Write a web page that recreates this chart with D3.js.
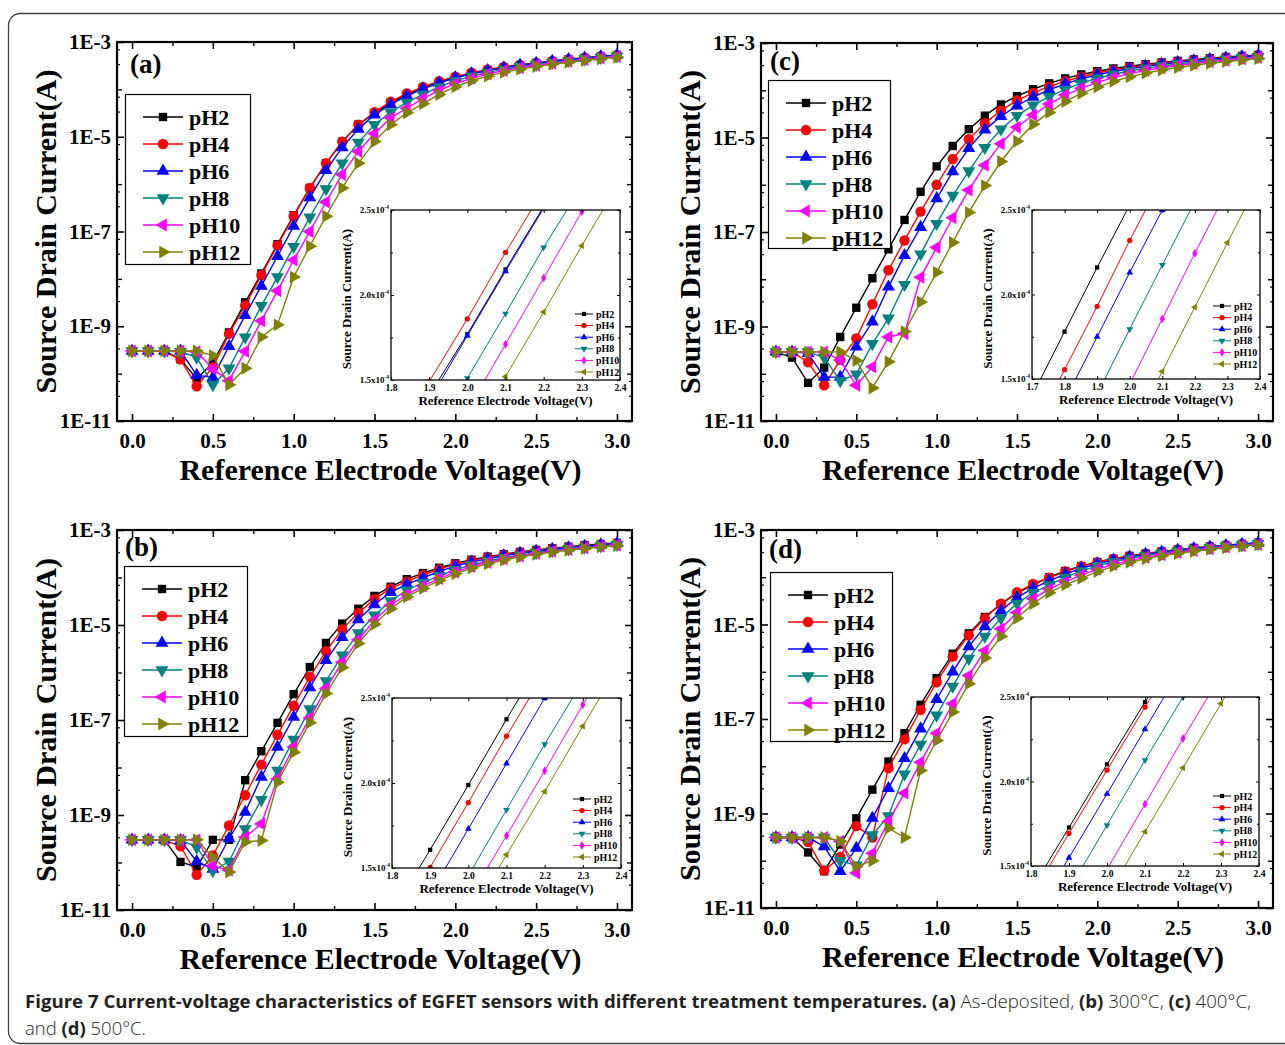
<!DOCTYPE html>
<html lang="en">
<head>
<meta charset="utf-8" />
<title>Figure 7</title>
<style>
  body { margin: 0; background: #fff; }
  svg text { font-family: "Liberation Serif", "Times New Roman", serif; font-weight: bold; }
  svg text.cap { font-family: "Open Sans", "Noto Sans", sans-serif; white-space: pre; }
</style>
</head>
<body>
<svg id="fig" width="1285" height="1045"></svg>
<script src="https://d3js.org/d3.v7.min.js"></script>
<script>
// gate voltage (V), same for every curve
const voltage = [0.0, 0.1, 0.2, 0.3, 0.4, 0.5, 0.6, 0.7, 0.8, 0.9, 1.0, 1.1, 1.2, 1.3, 1.4, 1.5,
  1.6, 1.7, 1.8, 1.9, 2.0, 2.1, 2.2, 2.3, 2.4, 2.5, 2.6, 2.7, 2.8, 2.9, 3.0];

const seriesNames = ["pH2", "pH4", "pH6", "pH8", "pH10", "pH12"];
const seriesColors = ["#000000", "#ff0000", "#0000ff", "#008080", "#ff00ff", "#808000"];

const xTicks = [0, 0.5, 1.0, 1.5, 2.0, 2.5, 3.0];
const xTickLabels = ["0.0", "0.5", "1.0", "1.5", "2.0", "2.5", "3.0"];
const xMinorTicks = [0.25, 0.75, 1.25, 1.75, 2.25, 2.75];
const yTicks = [1e-3, 1e-5, 1e-7, 1e-9, 1e-11];
const yTickLabels = ["1E-3", "1E-5", "1E-7", "1E-9", "1E-11"];
const yDecadeTicks = [1e-4, 1e-6, 1e-8, 1e-10];
const yMinorTicks = [7e-4, 3.4e-4, 7e-5, 3.4e-5, 7e-6, 3.4e-6, 7e-7, 3.4e-7, 7e-8, 3.4e-8,
  7e-9, 3.4e-9, 7e-10, 3.4e-10, 7e-11, 3.4e-11];

const insetTicks18 = [1.8, 1.9, 2.0, 2.1, 2.2, 2.3, 2.4];
const insetTicks17 = [1.7, 1.8, 1.9, 2.0, 2.1, 2.2, 2.3, 2.4];
const insetYTicks = [1.5e-4, 2.0e-4, 2.5e-4];
const insetYLabels = ["1.5x10", "2.0x10", "2.5x10"];
const insetYMinor = [1.75e-4, 2.25e-4];

// (a) as-deposited
const pH2_a = [3.0e-10, 3.0e-10, 3.0e-10, 2.0e-10, 7.8e-11, 1.7e-10, 7.4e-10, 3.2e-9, 1.3e-8, 5.4e-8, 2.2e-7, 8.3e-7, 2.75e-6, 7.9e-6, 1.8e-5, 3.1e-5, 5.2e-5, 7.8e-5, 1.07e-4, 1.41e-4, 1.77e-4, 2.15e-4, 2.52e-4, 2.88e-4, 3.23e-4, 3.58e-4, 3.93e-4, 4.27e-4, 4.61e-4, 4.95e-4, 5.28e-4];
const pH4_a = [3.0e-10, 3.0e-10, 3.0e-10, 2.0e-10, 5.4e-11, 1.35e-10, 6.9e-10, 2.75e-9, 1.2e-8, 5.1e-8, 2.1e-7, 8.3e-7, 2.75e-6, 7.9e-6, 1.8e-5, 3.3e-5, 5.5e-5, 8.2e-5, 1.13e-4, 1.49e-4, 1.86e-4, 2.25e-4, 2.62e-4, 2.98e-4, 3.33e-4, 3.67e-4, 4.0e-4, 4.33e-4, 4.66e-4, 4.98e-4, 5.3e-4];
const pH6_a = [3.0e-10, 3.0e-10, 3.0e-10, 3.0e-10, 9.3e-11, 8.3e-11, 3.8e-10, 1.7e-9, 7.1e-9, 3.0e-8, 1.3e-7, 5.2e-7, 1.95e-6, 5.9e-6, 1.45e-5, 2.9e-5, 4.8e-5, 7.3e-5, 1.03e-4, 1.38e-4, 1.76e-4, 2.14e-4, 2.51e-4, 2.87e-4, 3.22e-4, 3.57e-4, 3.92e-4, 4.26e-4, 4.6e-4, 4.94e-4, 5.28e-4];
const pH8_a = [3.0e-10, 3.0e-10, 3.0e-10, 2.9e-10, 2.2e-10, 5.8e-11, 1.3e-10, 5.9e-10, 2.7e-9, 1.1e-8, 4.8e-8, 2.0e-7, 7.9e-7, 2.75e-6, 7.6e-6, 1.8e-5, 3.3e-5, 5.3e-5, 7.8e-5, 1.13e-4, 1.51e-4, 1.89e-4, 2.28e-4, 2.64e-4, 3.0e-4, 3.35e-4, 3.7e-4, 4.04e-4, 4.38e-4, 4.71e-4, 5.04e-4];
const pH10_a = [3.0e-10, 3.0e-10, 3.0e-10, 3.0e-10, 2.9e-10, 1.26e-10, 7.1e-11, 2.95e-10, 1.3e-9, 5.6e-9, 2.5e-8, 1.0e-7, 4.2e-7, 1.6e-6, 4.9e-6, 1.17e-5, 2.5e-5, 4.0e-5, 6.4e-5, 9.5e-5, 1.32e-4, 1.71e-4, 2.1e-4, 2.49e-4, 2.86e-4, 3.22e-4, 3.57e-4, 3.91e-4, 4.25e-4, 4.58e-4, 4.9e-4];
const pH12_a = [3.0e-10, 3.0e-10, 3.0e-10, 3.0e-10, 3.0e-10, 2.4e-10, 5.8e-11, 1.3e-10, 5.9e-10, 1.07e-9, 1.1e-8, 4.9e-8, 2.1e-7, 8.3e-7, 2.75e-6, 7.9e-6, 1.8e-5, 3.2e-5, 5.0e-5, 7.8e-5, 1.14e-4, 1.52e-4, 1.9e-4, 2.29e-4, 2.67e-4, 3.03e-4, 3.39e-4, 3.74e-4, 4.08e-4, 4.42e-4, 4.75e-4];

// (b) 300 C
const pH2_b = [3.0e-10, 3.0e-10, 3.0e-10, 1.03e-10, 8.0e-11, 3.0e-10, 3.0e-10, 5.4e-9, 2.2e-8, 8.7e-8, 3.5e-7, 1.3e-6, 4.2e-6, 1.07e-5, 2.2e-5, 4.1e-5, 6.4e-5, 9.2e-5, 1.24e-4, 1.607e-4, 1.988e-4, 2.375e-4, 2.75e-4, 3.11e-4, 3.46e-4, 3.8e-4, 4.13e-4, 4.45e-4, 4.76e-4, 5.06e-4, 5.35e-4];
const pH4_b = [3.0e-10, 3.0e-10, 3.0e-10, 2.2e-10, 5.5e-11, 1.4e-10, 6.0e-10, 2.6e-9, 1.15e-8, 4.9e-8, 2.0e-7, 8.1e-7, 2.8e-6, 8.1e-6, 1.8e-5, 3.5e-5, 5.9e-5, 8.3e-5, 1.13e-4, 1.504e-4, 1.885e-4, 2.275e-4, 2.65e-4, 3.01e-4, 3.36e-4, 3.7e-4, 4.03e-4, 4.35e-4, 4.66e-4, 4.96e-4, 5.25e-4];
const pH6_b = [3.0e-10, 3.0e-10, 3.0e-10, 2.9e-10, 1.05e-10, 7.3e-11, 3.2e-10, 1.15e-9, 6.3e-9, 2.7e-8, 1.15e-7, 4.8e-7, 1.8e-6, 5.5e-6, 1.3e-5, 2.7e-5, 4.9e-5, 7.2e-5, 9.8e-5, 1.345e-4, 1.73e-4, 2.115e-4, 2.5e-4, 2.87e-4, 3.23e-4, 3.58e-4, 3.92e-4, 4.25e-4, 4.57e-4, 4.88e-4, 5.18e-4];
const pH8_b = [3.0e-10, 3.0e-10, 3.0e-10, 3.0e-10, 2.1e-10, 6.7e-11, 1.05e-10, 5.1e-10, 2.1e-9, 8.7e-9, 3.9e-8, 1.7e-7, 6.6e-7, 2.3e-6, 6.8e-6, 1.6e-5, 3.2e-5, 5.4e-5, 7.8e-5, 1.08e-4, 1.455e-4, 1.842e-4, 2.228e-4, 2.6e-4, 2.96e-4, 3.31e-4, 3.65e-4, 3.98e-4, 4.3e-4, 4.61e-4, 4.91e-4];
const pH10_b = [3.0e-10, 3.0e-10, 3.0e-10, 3.0e-10, 3.0e-10, 8.5e-11, 6.9e-11, 3.4e-10, 6.5e-10, 5.8e-9, 2.7e-8, 1.1e-7, 4.6e-7, 1.65e-6, 4.9e-6, 1.26e-5, 2.6e-5, 4.4e-5, 6.6e-5, 9.5e-5, 1.31e-4, 1.69e-4, 2.072e-4, 2.46e-4, 2.83e-4, 3.19e-4, 3.54e-4, 3.88e-4, 4.21e-4, 4.53e-4, 4.84e-4];
const pH12_b = [3.0e-10, 3.0e-10, 3.0e-10, 3.0e-10, 3.0e-10, 1.3e-10, 6.3e-11, 2.7e-10, 2.9e-10, 4.9e-9, 2.1e-8, 8.8e-8, 3.6e-7, 1.27e-6, 4.1e-6, 1.04e-5, 2.2e-5, 3.9e-5, 5.9e-5, 8.6e-5, 1.2e-4, 1.578e-4, 1.95e-4, 2.334e-4, 2.71e-4, 3.07e-4, 3.42e-4, 3.76e-4, 4.09e-4, 4.41e-4, 4.72e-4];

// (c) 400 C
const pH2_c = [2.9e-10, 2.2e-10, 6.4e-11, 1.35e-10, 6.0e-10, 2.5e-9, 1.05e-8, 4.3e-8, 1.8e-7, 7.1e-7, 2.45e-6, 6.6e-6, 1.5e-5, 2.9e-5, 5.0e-5, 7.5e-5, 1.05e-4, 1.40e-4, 1.78e-4, 2.16e-4, 2.53e-4, 2.89e-4, 3.23e-4, 3.56e-4, 3.88e-4, 4.19e-4, 4.49e-4, 4.78e-4, 5.06e-4, 5.33e-4, 5.6e-4];
const pH4_c = [2.9e-10, 2.9e-10, 1.75e-10, 5.7e-11, 1.95e-10, 5.6e-10, 2.95e-9, 1.55e-8, 6.6e-8, 2.7e-7, 1.0e-6, 3.5e-6, 9.2e-6, 2.0e-5, 3.7e-5, 6.1e-5, 8.8e-5, 1.19e-4, 1.555e-4, 1.93e-4, 2.32e-4, 2.69e-4, 3.05e-4, 3.39e-4, 3.72e-4, 4.04e-4, 4.35e-4, 4.65e-4, 4.94e-4, 5.22e-4, 5.5e-4];
const pH6_c = [2.9e-10, 2.9e-10, 2.7e-10, 8.5e-11, 8.5e-11, 3.7e-10, 1.26e-9, 6.9e-9, 3.2e-8, 1.26e-7, 5.1e-7, 1.9e-6, 5.9e-6, 1.45e-5, 2.8e-5, 4.7e-5, 7.2e-5, 1.02e-4, 1.37e-4, 1.75e-4, 2.13e-4, 2.5e-4, 2.86e-4, 3.21e-4, 3.55e-4, 3.88e-4, 4.2e-4, 4.51e-4, 4.81e-4, 5.1e-4, 5.38e-4];
const pH8_c = [2.9e-10, 2.9e-10, 2.9e-10, 2.2e-10, 7.1e-11, 9.8e-11, 4.3e-10, 1.5e-9, 7.7e-9, 3.4e-8, 1.5e-7, 5.9e-7, 1.95e-6, 6.1e-6, 1.5e-5, 2.9e-5, 4.8e-5, 7.3e-5, 1.04e-4, 1.41e-4, 1.795e-4, 2.175e-4, 2.55e-4, 2.91e-4, 3.26e-4, 3.6e-4, 3.93e-4, 4.25e-4, 4.56e-4, 4.86e-4, 5.15e-4];
const pH10_c = [2.9e-10, 2.9e-10, 2.9e-10, 2.9e-10, 1.95e-10, 5.7e-11, 1.4e-10, 6.0e-10, 7.1e-10, 1.1e-8, 4.7e-8, 2.0e-7, 7.7e-7, 2.6e-6, 7.4e-6, 1.65e-5, 3.0e-5, 5.1e-5, 7.9e-5, 1.1e-4, 1.47e-4, 1.856e-4, 2.244e-4, 2.62e-4, 2.98e-4, 3.33e-4, 3.67e-4, 4.0e-4, 4.32e-4, 4.63e-4, 4.93e-4];
const pH12_c = [2.9e-10, 2.9e-10, 2.9e-10, 2.9e-10, 2.9e-10, 1.9e-10, 5.0e-11, 1.8e-10, 7.8e-10, 3.3e-9, 1.4e-8, 6.0e-8, 2.6e-7, 9.6e-7, 3.1e-6, 8.3e-6, 1.9e-5, 3.4e-5, 5.8e-5, 8.6e-5, 1.165e-4, 1.545e-4, 1.925e-4, 2.307e-4, 2.68e-4, 3.04e-4, 3.39e-4, 3.73e-4, 4.06e-4, 4.38e-4, 4.69e-4];

// (d) 500 C
const pH2_d = [3.1e-10, 3.1e-10, 1.5e-10, 6.0e-11, 2.2e-10, 7.9e-10, 3.2e-9, 1.26e-8, 5.0e-8, 2.0e-7, 7.3e-7, 2.4e-6, 6.5e-6, 1.44e-5, 2.7e-5, 4.6e-5, 6.9e-5, 1.0e-4, 1.355e-4, 1.728e-4, 2.102e-4, 2.47e-4, 2.83e-4, 3.18e-4, 3.52e-4, 3.85e-4, 4.17e-4, 4.48e-4, 4.78e-4, 5.07e-4, 5.35e-4];
const pH4_d = [3.1e-10, 3.1e-10, 2.5e-10, 6.2e-11, 1.2e-10, 5.4e-10, 3.1e-10, 9.1e-9, 3.7e-8, 1.55e-7, 6.0e-7, 2.1e-6, 5.9e-6, 1.35e-5, 2.75e-5, 4.8e-5, 7.2e-5, 9.8e-5, 1.32e-4, 1.693e-4, 2.067e-4, 2.44e-4, 2.8e-4, 3.15e-4, 3.49e-4, 3.82e-4, 4.14e-4, 4.45e-4, 4.75e-4, 5.04e-4, 5.32e-4];
const pH6_d = [3.1e-10, 3.1e-10, 3.1e-10, 2.0e-10, 6.0e-11, 1.85e-10, 8.0e-10, 3.4e-9, 1.47e-8, 6.2e-8, 2.6e-7, 1.0e-6, 3.4e-6, 9.1e-6, 1.95e-5, 3.7e-5, 5.9e-5, 8.4e-5, 1.17e-4, 1.549e-4, 1.927e-4, 2.309e-4, 2.69e-4, 3.06e-4, 3.41e-4, 3.75e-4, 4.08e-4, 4.4e-4, 4.71e-4, 5.01e-4, 5.3e-4];
const pH8_d = [3.1e-10, 3.1e-10, 3.1e-10, 3.1e-10, 1.0e-10, 8.0e-11, 3.5e-10, 8.9e-10, 6.8e-9, 2.9e-8, 1.2e-7, 4.9e-7, 1.9e-6, 5.6e-6, 1.35e-5, 2.8e-5, 4.7e-5, 6.9e-5, 9.9e-5, 1.36e-4, 1.742e-4, 2.126e-4, 2.5e-4, 2.87e-4, 3.22e-4, 3.56e-4, 3.89e-4, 4.21e-4, 4.52e-4, 4.82e-4, 5.1e-4];
const pH10_d = [3.1e-10, 3.1e-10, 3.1e-10, 3.1e-10, 2.6e-10, 5.5e-11, 1.45e-10, 6.8e-10, 2.7e-9, 1.22e-8, 5.0e-8, 2.1e-7, 8.3e-7, 2.8e-6, 8.1e-6, 1.8e-5, 3.5e-5, 5.6e-5, 8.0e-5, 1.1e-4, 1.48e-4, 1.866e-4, 2.254e-4, 2.63e-4, 2.99e-4, 3.34e-4, 3.68e-4, 4.01e-4, 4.33e-4, 4.64e-4, 4.94e-4];
const pH12_d = [3.1e-10, 3.1e-10, 3.1e-10, 3.1e-10, 2.6e-10, 7.6e-11, 1.0e-10, 4.9e-10, 3.1e-10, 8.1e-9, 3.5e-8, 1.4e-7, 5.6e-7, 1.95e-6, 5.6e-6, 1.35e-5, 2.75e-5, 4.7e-5, 6.9e-5, 9.5e-5, 1.32e-4, 1.703e-4, 2.081e-4, 2.461e-4, 2.83e-4, 3.19e-4, 3.54e-4, 3.88e-4, 4.21e-4, 4.53e-4, 4.84e-4];

// layout of the four panels
const panels = [
  { label: "(a)", curves: [pH2_a, pH4_a, pH6_a, pH8_a, pH10_a, pH12_a],
    frame: [117, 42, 515, 379], labelPos: [130, 73], legend: [125, 94, 125, 170],
    inset: [391, 210, 229, 170], insetTicks: insetTicks18, insetLegend: [575, 314] },
  { label: "(c)", curves: [pH2_c, pH4_c, pH6_c, pH8_c, pH10_c, pH12_c],
    frame: [761, 43, 512, 378], labelPos: [770, 70], legend: [768, 80, 122, 168],
    inset: [1032, 210, 228, 169], insetTicks: insetTicks17, insetLegend: [1213, 306] },
  { label: "(b)", curves: [pH2_b, pH4_b, pH6_b, pH8_b, pH10_b, pH12_b],
    frame: [117, 530, 515, 380], labelPos: [125, 556], legend: [124, 566, 123, 170],
    inset: [392, 698, 229, 170], insetTicks: insetTicks18, insetLegend: [573, 799] },
  { label: "(d)", curves: [pH2_d, pH4_d, pH6_d, pH8_d, pH10_d, pH12_d],
    frame: [761, 530, 512, 378], labelPos: [769, 558], legend: [770, 572, 122, 169],
    inset: [1031, 697, 228, 169], insetTicks: insetTicks18, insetLegend: [1213, 796] }
];

const mainSymbols = [
  { type: d3.symbolSquare, size: 70, rot: 0 },
  { type: d3.symbolCircle, size: 85, rot: 0 },
  { type: d3.symbolTriangle, size: 72, rot: 0 },
  { type: d3.symbolTriangle, size: 72, rot: 180 },
  { type: d3.symbolTriangle, size: 72, rot: -90 },
  { type: d3.symbolTriangle, size: 72, rot: 90 }
];
const insetSymbols = [
  { type: d3.symbolSquare, size: 18, rot: 0 },
  { type: d3.symbolCircle, size: 22, rot: 0 },
  { type: d3.symbolTriangle, size: 20, rot: 0 },
  { type: d3.symbolTriangle, size: 20, rot: 180 },
  { type: d3.symbolDiamond, size: 22, rot: 0 },
  { type: d3.symbolTriangle, size: 20, rot: -90 }
];

const svg = d3.select("#fig");

// rounded border round the whole figure
svg.append("rect")
  .attr("x", 8.5).attr("y", 13.5)
  .attr("width", 1290).attr("height", 1030)
  .attr("rx", 12)
  .attr("fill", "none").attr("stroke", "#444").attr("stroke-width", 1.3);

function styleAxis(sel, width) {
  sel.select(".domain").remove();
  sel.selectAll(".tick line").attr("stroke", "#000").attr("stroke-width", width);
}

function drawPanel(p, idx) {
  const [fx, fy, fw, fh] = p.frame;
  const g = svg.append("g").attr("class", "panel");

  const x = d3.scaleLinear().domain([-0.093, 3.093]).range([fx, fx + fw]);
  const y = d3.scaleLog().domain([1e-11, 1e-3]).range([fy + fh, fy]);

  // bottom axis
  const xAxis = g.append("g")
    .attr("transform", "translate(0," + (fy + fh) + ")")
    .call(d3.axisBottom(x).tickValues(xTicks)
      .tickFormat((d, i) => xTickLabels[i])
      .tickSizeInner(-7).tickSizeOuter(0).tickPadding(12));
  styleAxis(xAxis, 1.6);
  xAxis.selectAll("text").attr("fill", "#000")
    .style("font", "bold 21px 'Liberation Serif', serif");

  g.append("g").attr("transform", "translate(0," + (fy + fh) + ")")
    .call(d3.axisBottom(x).tickValues(xMinorTicks).tickFormat("").tickSizeInner(-4).tickSizeOuter(0))
    .call((s) => styleAxis(s, 1.4));

  // top axis, ticks only
  g.append("g").attr("transform", "translate(0," + fy + ")")
    .call(d3.axisTop(x).tickValues(xTicks).tickFormat("").tickSizeInner(-7).tickSizeOuter(0))
    .call((s) => styleAxis(s, 1.6));
  g.append("g").attr("transform", "translate(0," + fy + ")")
    .call(d3.axisTop(x).tickValues(xMinorTicks).tickFormat("").tickSizeInner(-4).tickSizeOuter(0))
    .call((s) => styleAxis(s, 1.4));

  // left axis
  const yAxis = g.append("g")
    .attr("transform", "translate(" + fx + ",0)")
    .call(d3.axisLeft(y).tickValues(yTicks)
      .tickFormat((d, i) => yTickLabels[i])
      .tickSizeInner(-7).tickSizeOuter(0).tickPadding(6));
  styleAxis(yAxis, 1.6);
  yAxis.selectAll("text").attr("fill", "#000")
    .style("font", "bold 21px 'Liberation Serif', serif");

  [[fx, d3.axisLeft], [fx + fw, d3.axisRight]].forEach(([pos, ax]) => {
    g.append("g").attr("transform", "translate(" + pos + ",0)")
      .call(ax(y).tickValues(yDecadeTicks).tickFormat("").tickSizeInner(-5).tickSizeOuter(0))
      .call((s) => styleAxis(s, 1.4));
    g.append("g").attr("transform", "translate(" + pos + ",0)")
      .call(ax(y).tickValues(yMinorTicks).tickFormat("").tickSizeInner(-3).tickSizeOuter(0))
      .call((s) => styleAxis(s, 1.2));
  });
  g.append("g").attr("transform", "translate(" + (fx + fw) + ",0)")
    .call(d3.axisRight(y).tickValues(yTicks).tickFormat("").tickSizeInner(-7).tickSizeOuter(0))
    .call((s) => styleAxis(s, 1.6));

  // frame
  g.append("rect")
    .attr("x", fx).attr("y", fy).attr("width", fw).attr("height", fh)
    .attr("fill", "none").attr("stroke", "#000").attr("stroke-width", 2.2);

  // axis titles
  g.append("text")
    .attr("x", fx + fw / 2 + 6).attr("y", fy + fh + 59)
    .attr("text-anchor", "middle")
    .style("font-size", "30px")
    .text("Reference Electrode Voltage(V)");
  g.append("text")
    .attr("transform", "translate(" + (fx - 61) + "," + (fy + fh / 2) + ") rotate(-90)")
    .attr("text-anchor", "middle")
    .style("font-size", "30px")
    .text("Source Drain Current(A)");

  // panel label
  g.append("text")
    .attr("x", p.labelPos[0]).attr("y", p.labelPos[1])
    .style("font-size", "27px")
    .text(p.label);

  // curves
  const line = d3.line()
    .x((d, i) => x(voltage[i]))
    .y((d) => y(d));

  p.curves.forEach((values, s) => {
    const sym = mainSymbols[s];
    const sg = g.append("g");
    sg.append("path")
      .datum(values)
      .attr("d", line)
      .attr("fill", "none")
      .attr("stroke", seriesColors[s])
      .attr("stroke-width", 1.4);
    sg.selectAll("path.mark")
      .data(values)
      .join("path")
      .attr("class", "mark")
      .attr("d", d3.symbol().type(sym.type).size(sym.size))
      .attr("transform", (d, i) => "translate(" + x(voltage[i]) + "," + y(d) + ") rotate(" + sym.rot + ")")
      .attr("fill", seriesColors[s]);
  });

  // legend
  const [lx, ly, lw, lh] = p.legend;
  g.append("rect")
    .attr("x", lx + 0.5).attr("y", ly + 0.5).attr("width", lw).attr("height", lh)
    .attr("fill", "#fff").attr("stroke", "#000").attr("stroke-width", 1.2);
  seriesNames.forEach((name, s) => {
    const yy = ly + 23 + s * 27;
    const sym = mainSymbols[s];
    g.append("line")
      .attr("x1", lx + 18).attr("x2", lx + 58).attr("y1", yy).attr("y2", yy)
      .attr("stroke", seriesColors[s]).attr("stroke-width", 1.4);
    g.append("path")
      .attr("d", d3.symbol().type(sym.type).size(sym.size)())
      .attr("transform", "translate(" + (lx + 38) + "," + yy + ") rotate(" + sym.rot + ")")
      .attr("fill", seriesColors[s]);
    g.append("text")
      .attr("x", lx + 64).attr("y", yy + 8)
      .style("font-size", "22px")
      .text(name);
  });

  drawInset(g, p, idx);
}

function drawInset(g, p, idx) {
  const [ix, iy, iw, ih] = p.inset;
  const ticks = p.insetTicks;
  const xi = d3.scaleLinear().domain([ticks[0], ticks[ticks.length - 1]]).range([ix, ix + iw]);
  const yi = d3.scaleLinear().domain([1.5e-4, 2.5e-4]).range([iy + ih, iy]);
  const ig = g.append("g").attr("class", "inset");

  ig.append("rect").attr("x", ix).attr("y", iy).attr("width", iw).attr("height", ih).attr("fill", "#fff");

  const clipId = "inset-clip-" + idx;
  ig.append("clipPath").attr("id", clipId)
    .append("rect").attr("x", ix).attr("y", iy).attr("width", iw).attr("height", ih);

  const plot = ig.append("g").attr("clip-path", "url(#" + clipId + ")");
  const line = d3.line()
    .x((d, i) => xi(voltage[i]))
    .y((d) => yi(d));

  p.curves.forEach((values, s) => {
    const sym = insetSymbols[s];
    plot.append("path")
      .datum(values)
      .attr("d", line)
      .attr("fill", "none")
      .attr("stroke", seriesColors[s])
      .attr("stroke-width", 1);
    const pts = values
      .map((v, i) => ({ v: voltage[i], c: v }))
      .filter((d) => d.v >= ticks[0] - 1e-9 && d.v <= ticks[ticks.length - 1] + 1e-9 && d.c >= 1.48e-4 && d.c <= 2.52e-4);
    plot.selectAll(null)
      .data(pts)
      .join("path")
      .attr("d", d3.symbol().type(sym.type).size(sym.size))
      .attr("transform", (d) => "translate(" + xi(d.v) + "," + yi(d.c) + ") rotate(" + sym.rot + ")")
      .attr("fill", seriesColors[s]);
  });

  // inset axes
  const bx = ig.append("g").attr("transform", "translate(0," + (iy + ih) + ")")
    .call(d3.axisBottom(xi).tickValues(ticks).tickFormat(d3.format(".1f"))
      .tickSizeInner(-3).tickSizeOuter(0).tickPadding(4));
  styleAxis(bx, 1);
  bx.selectAll("text").attr("fill", "#000").style("font", "bold 9.5px 'Liberation Serif', serif");
  ig.append("g").attr("transform", "translate(0," + iy + ")")
    .call(d3.axisTop(xi).tickValues(ticks).tickFormat("").tickSizeInner(-3).tickSizeOuter(0))
    .call((s) => styleAxis(s, 1));
  [[ix, d3.axisLeft], [ix + iw, d3.axisRight]].forEach(([pos, ax]) => {
    ig.append("g").attr("transform", "translate(" + pos + ",0)")
      .call(ax(yi).tickValues(insetYTicks).tickFormat("").tickSizeInner(-3).tickSizeOuter(0))
      .call((s) => styleAxis(s, 1));
    ig.append("g").attr("transform", "translate(" + pos + ",0)")
      .call(ax(yi).tickValues(insetYMinor).tickFormat("").tickSizeInner(-2).tickSizeOuter(0))
      .call((s) => styleAxis(s, 1));
  });

  insetYTicks.forEach((v, k) => {
    const t = ig.append("text")
      .attr("x", ix - 2).attr("y", yi(v) + 3)
      .attr("text-anchor", "end")
      .style("font-size", "9px");
    t.append("tspan").text(insetYLabels[k]);
    t.append("tspan").attr("dy", -4).style("font-size", "5.5px").text("-4");
  });

  ig.append("rect")
    .attr("x", ix).attr("y", iy).attr("width", iw).attr("height", ih)
    .attr("fill", "none").attr("stroke", "#000").attr("stroke-width", 1.3);

  ig.append("text")
    .attr("x", ix + iw / 2).attr("y", iy + ih + 25)
    .attr("text-anchor", "middle")
    .style("font-size", "13px")
    .text("Reference Electrode Voltage(V)");
  ig.append("text")
    .attr("transform", "translate(" + (ix - 40) + "," + (iy + ih / 2 + 4) + ") rotate(-90)")
    .attr("text-anchor", "middle")
    .style("font-size", "13px")
    .text("Source Drain Current(A)");

  // inset legend
  const [lx, ly] = p.insetLegend;
  seriesNames.forEach((name, s) => {
    const yy = ly + s * 11.6;
    const sym = insetSymbols[s];
    ig.append("line")
      .attr("x1", lx).attr("x2", lx + 18).attr("y1", yy).attr("y2", yy)
      .attr("stroke", seriesColors[s]).attr("stroke-width", 1);
    ig.append("path")
      .attr("d", d3.symbol().type(sym.type).size(sym.size)())
      .attr("transform", "translate(" + (lx + 9) + "," + yy + ") rotate(" + sym.rot + ")")
      .attr("fill", seriesColors[s]);
    ig.append("text")
      .attr("x", lx + 21).attr("y", yy + 3.5)
      .style("font-size", "10px")
      .text(name);
  });
}

panels.forEach(drawPanel);

// caption
const capColor = "#231f20";
const cap1 = svg.append("text")
  .attr("class", "cap")
  .attr("x", 25).attr("y", 1008)
  .attr("fill", capColor)
  .style("font-size", "18.5px")
  .attr("textLength", 1226)
  .attr("lengthAdjust", "spacingAndGlyphs");
[
  ["Figure 7 Current-voltage characteristics of EGFET sensors with different treatment temperatures. ", 700],
  ["(a)", 700], [" As-deposited, ", 300], ["(b)", 700], [" 300°C, ", 300],
  ["(c)", 700], [" 400°C,", 300]
].forEach(([t, w]) => cap1.append("tspan").style("font-weight", w).text(t));

const cap2 = svg.append("text")
  .attr("class", "cap")
  .attr("x", 25).attr("y", 1035)
  .attr("fill", capColor)
  .style("font-size", "18.5px")
  .attr("textLength", 121)
  .attr("lengthAdjust", "spacingAndGlyphs");
[["and ", 300], ["(d)", 700], [" 500°C.", 300]]
  .forEach(([t, w]) => cap2.append("tspan").style("font-weight", w).text(t));
</script>
</body>
</html>
